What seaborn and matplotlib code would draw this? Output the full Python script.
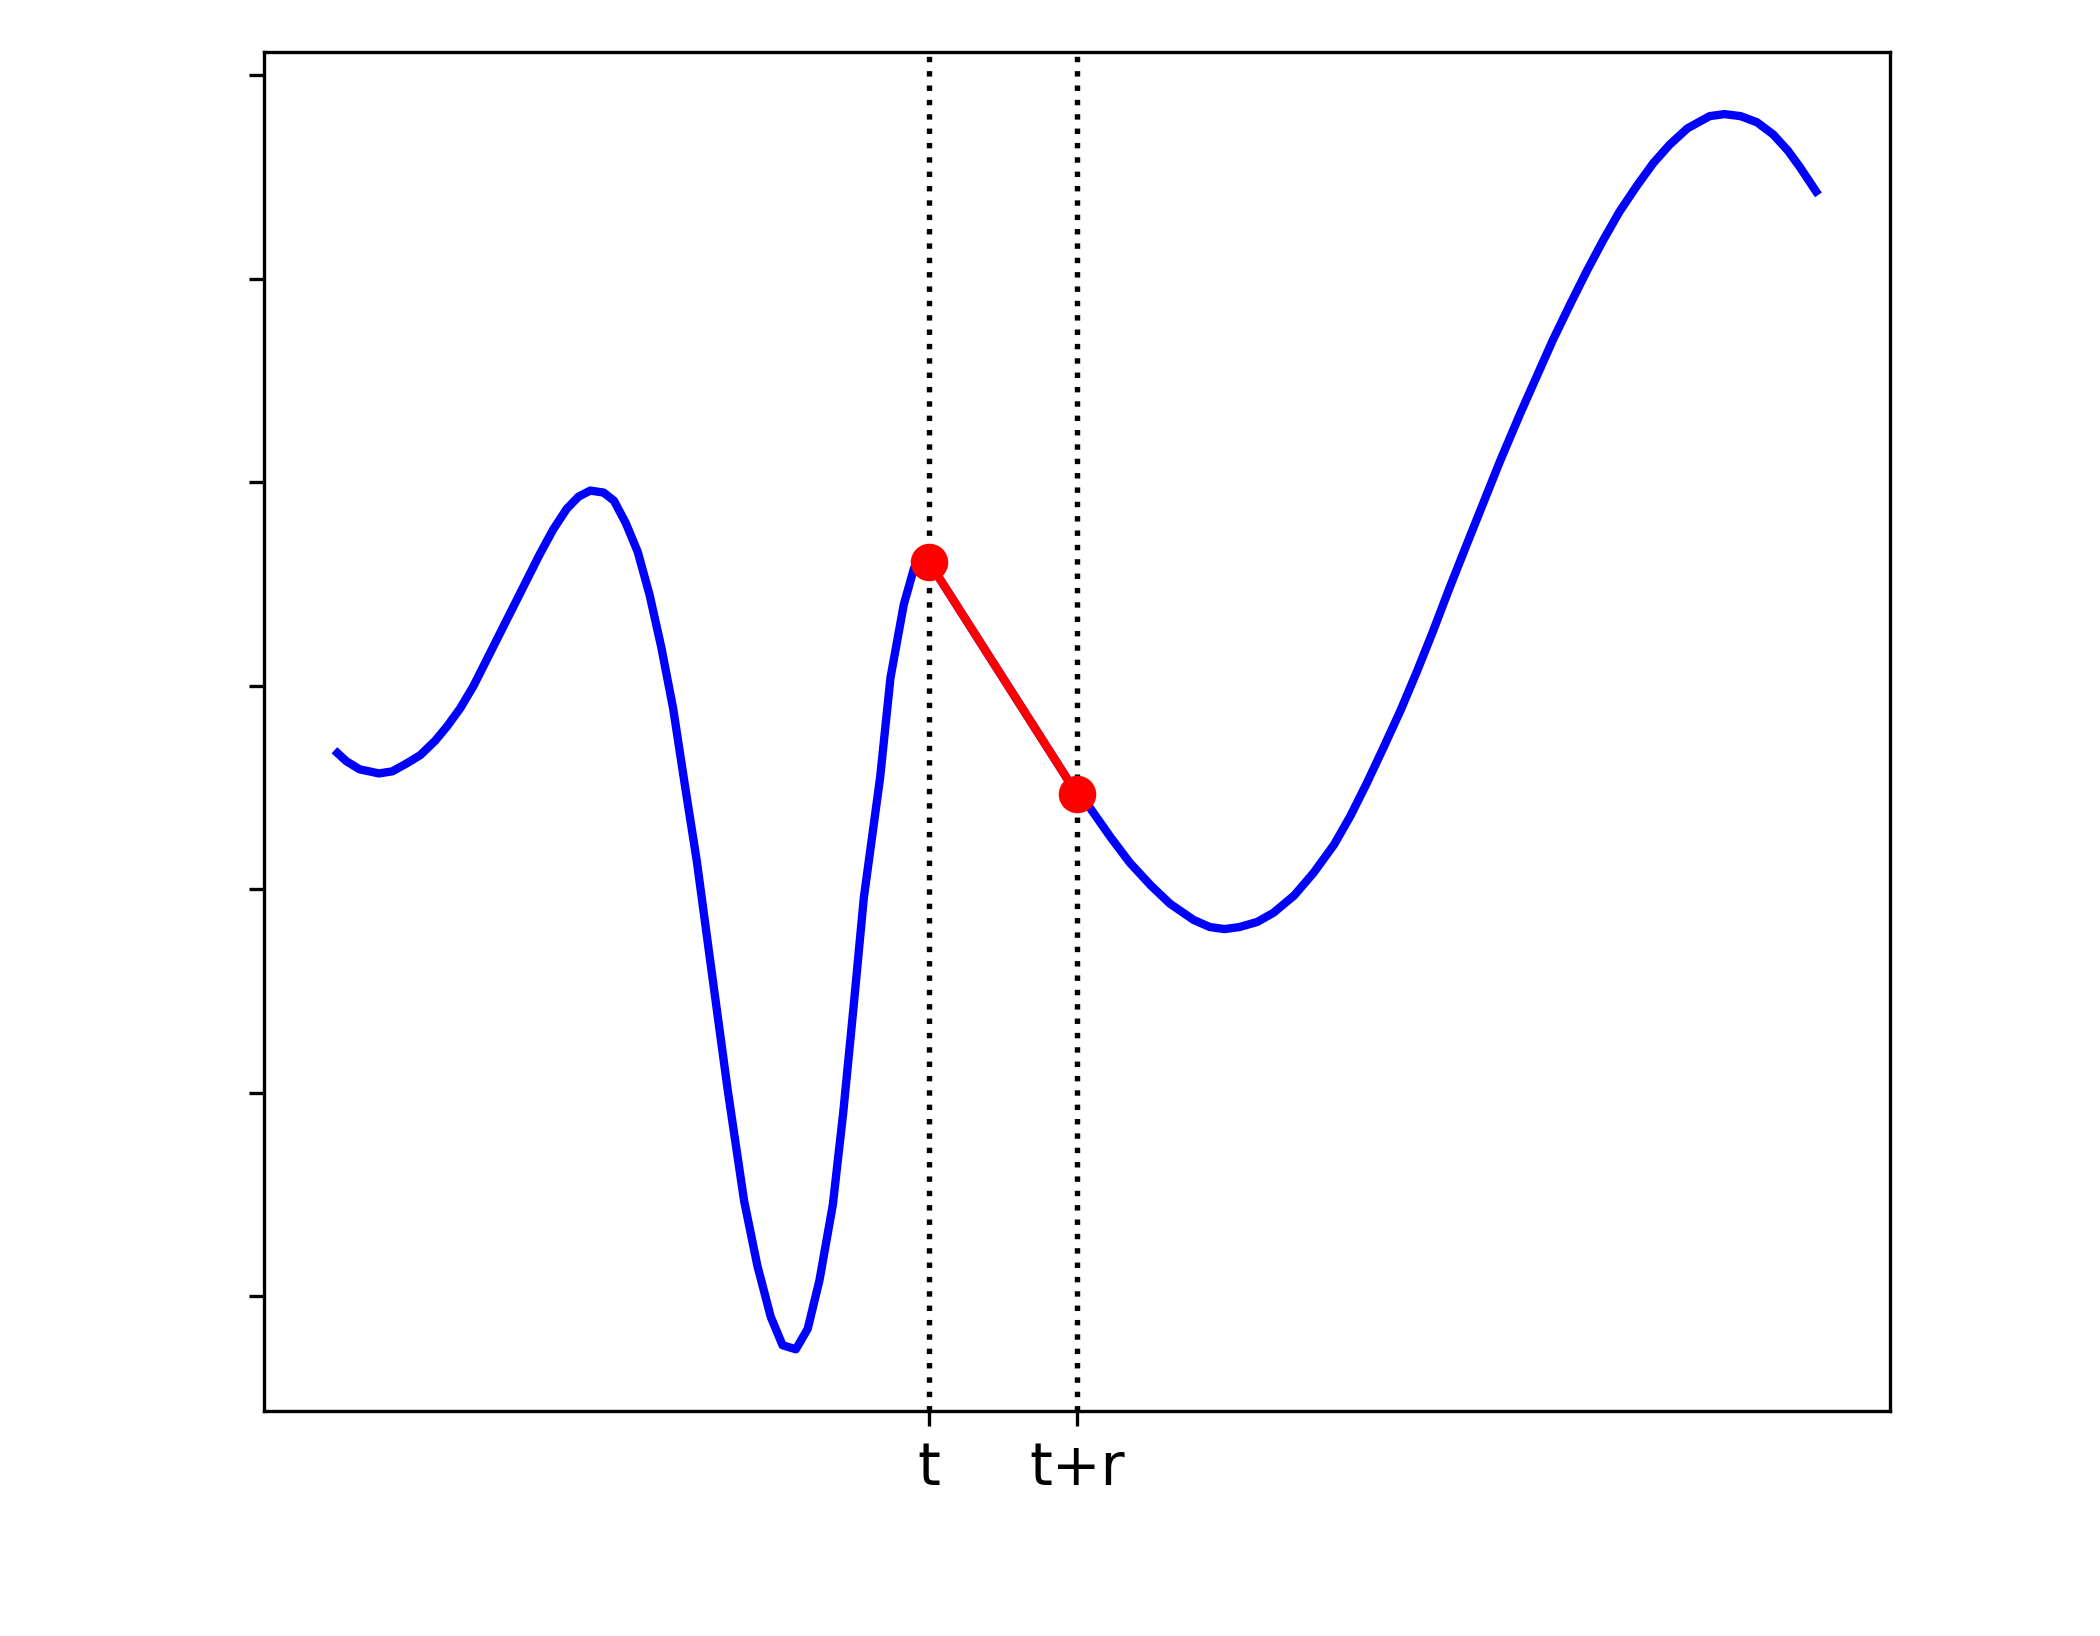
import numpy as np
import seaborn as sns
import matplotlib.pyplot as plt

# curve samples
xs = [0.00, 0.06, 0.15, 0.28, 0.37, 0.47, 0.56, 0.66, 0.74, 0.83, 0.92, 1.01,
      1.10, 1.19, 1.28, 1.37, 1.46, 1.55, 1.63, 1.71, 1.80, 1.87, 1.95, 2.03,
      2.11, 2.19, 2.27, 2.35, 2.43, 2.53, 2.64, 2.75, 2.84, 2.93, 3.01, 3.10,
      3.18, 3.26, 3.35, 3.42, 3.49, 3.56, 3.67, 3.74, 3.83, 3.90, 4.00,
      5.00, 5.09, 5.23, 5.36, 5.50, 5.63, 5.79, 5.90, 6.00, 6.10, 6.22, 6.33,
      6.47, 6.60, 6.74, 6.85, 6.96, 7.07, 7.19, 7.30, 7.41, 7.52, 7.64, 7.75,
      7.86, 8.00, 8.11, 8.22, 8.34, 8.45, 8.56, 8.67, 8.79, 8.90, 9.01, 9.13,
      9.28, 9.38, 9.49, 9.60, 9.71, 9.81, 9.89, 10.00]
ys = [-0.33, -0.37, -0.41, -0.43, -0.42, -0.38, -0.34, -0.27, -0.20, -0.11, 0.00, 0.13,
      0.26, 0.39, 0.52, 0.65, 0.77, 0.87, 0.93, 0.96, 0.95, 0.91, 0.80, 0.66,
      0.45, 0.19, -0.11, -0.49, -0.86, -1.40, -1.99, -2.53, -2.85, -3.10, -3.24, -3.26,
      -3.16, -2.92, -2.55, -2.10, -1.58, -1.04, -0.45, 0.04, 0.40, 0.58, 0.61,
      -0.53, -0.60, -0.745, -0.87, -0.98, -1.07, -1.15, -1.185, -1.195, -1.185, -1.16, -1.115,
      -1.03, -0.92, -0.78, -0.64, -0.48, -0.31, -0.12, 0.07, 0.27, 0.48, 0.70, 0.90,
      1.10, 1.34, 1.52, 1.70, 1.88, 2.04, 2.19, 2.33, 2.46, 2.57, 2.66, 2.74,
      2.80, 2.81, 2.80, 2.77, 2.71, 2.63, 2.55, 2.43]

t = 4.0
r = 1.0
tick_labels = ['t', 't+r']

sns.set_style('ticks', {'axes.edgecolor': 'black', 'xtick.color': 'black',
                        'ytick.color': 'black'})

fig, ax = plt.subplots(figsize=(7, 1636 / 300), dpi=300)
fig.subplots_adjust(left=0.1255, right=0.9, bottom=0.1375, top=0.968)

sns.lineplot(x=xs, y=ys, color='blue', lw=2, sort=False, estimator=None, ax=ax,
             solid_capstyle='projecting', solid_joinstyle='round')

i_t = xs.index(t)
i_r = xs.index(t + r)
ax.axvline(t, color='black', ls=':', lw=1.3)
ax.axvline(t + r, color='black', ls=':', lw=1.3)
ax.plot([xs[i_t], xs[i_r]], [ys[i_t], ys[i_r]], color='red', lw=2,
        marker='o', ms=8, zorder=5)

ax.set_xticks([t, t + r])
ax.set_xticklabels(tick_labels, fontsize=14)
ax.tick_params(axis='y', labelleft=False)
for s in ax.spines.values():
    s.set_visible(True)

fig.savefig('out.png', dpi=300)
